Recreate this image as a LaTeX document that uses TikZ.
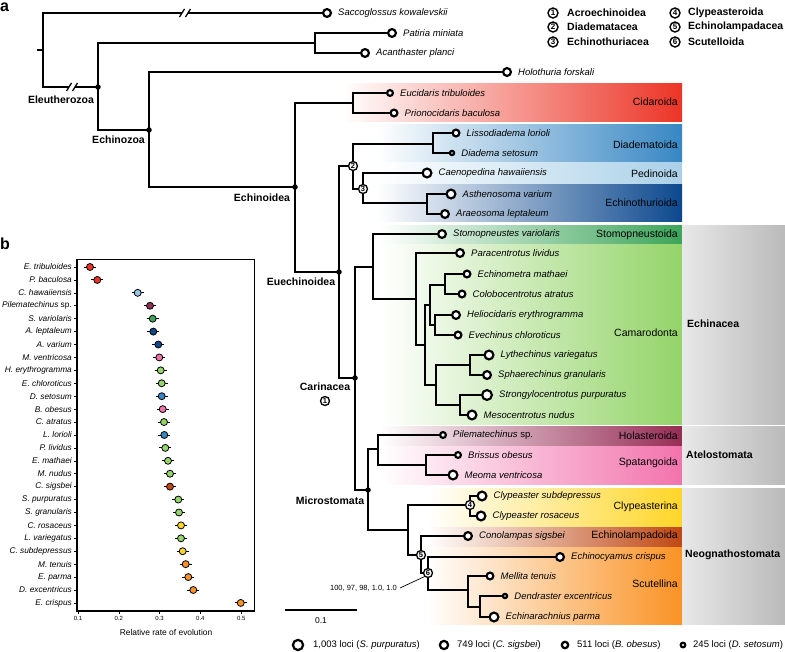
\documentclass[tikz,border=0pt]{standalone}
\usepackage{fontspec}
\setmainfont{Liberation Sans}
\usetikzlibrary{calc}
\definecolor{cid}{RGB}{236,52,38}
\definecolor{dia}{RGB}{55,135,195}
\definecolor{ped}{RGB}{170,208,232}
\definecolor{pedb}{RGB}{150,200,230}
\definecolor{echt}{RGB}{12,72,142}
\definecolor{stom}{RGB}{60,165,90}
\definecolor{cam}{RGB}{148,212,105}
\definecolor{hol}{RGB}{150,45,85}
\definecolor{spa}{RGB}{242,115,172}
\definecolor{clyp}{RGB}{255,214,40}
\definecolor{echl}{RGB}{192,72,20}
\definecolor{scu}{RGB}{250,146,36}
\newcommand\myband[5]{\shade[left color=white, right color=#5] (#1,#3) rectangle (#2,#4);}
\newcommand\mytip[5]{\node[tip=#4] (#1) at (#2,#3) {};\node[tiplab] (#1-l) at ([xshift=6pt]#1.east) {#5};}
\tikzset{
  br/.style={line width=2pt, line join=miter},
  tip/.style={circle, draw, fill=white, line width=2.2pt, inner sep=0pt, minimum size=2*#1pt-2.2pt},
  tiplab/.style={anchor=west, inner sep=0pt, font=\fontsize{9.5}{11}\selectfont\itshape},
  dotn/.style={circle, fill=black, inner sep=0pt, minimum size=5.5pt},
  numc/.style={circle, draw, fill=white, line width=1.3pt, minimum size=9pt, inner sep=0pt, font=\fontsize{7.5}{7.5}\selectfont\bfseries},
  grplab/.style={inner sep=0pt, font=\fontsize{10.5}{12}\selectfont\bfseries},
  cladelab/.style={anchor=east, inner sep=0pt, font=\fontsize{10.5}{12}\selectfont},
  leglab/.style={anchor=west, inner sep=0pt, font=\fontsize{10.5}{12}\selectfont\bfseries},
  blab/.style={anchor=east, inner sep=0pt, font=\fontsize{8.3}{9}\selectfont\itshape},
  bdot/.style={circle, draw, line width=0.8pt, minimum size=7pt, inner sep=0pt},
  brk/.style={line width=1.3pt}
}
\begin{document}
\begin{tikzpicture}[x=1pt,y=-1pt]
\useasboundingbox (0,0) rectangle (785,652);
% ---------------- bands
\myband{343}{682}{84}{122}{cid}
\myband{377}{682}{125}{163}{dia}
\myband{377}{682}{163}{185}{ped}
\myband{377}{682}{185}{222}{echt}
\myband{380}{682}{226}{245}{stom}
\myband{380}{682}{245}{425}{cam}
\myband{380}{682}{427}{446}{hol}
\myband{380}{682}{446}{484}{spa}
\myband{427}{682}{488}{527}{clyp}
\myband{427}{682}{527}{547}{echl}
\myband{427}{682}{547}{624}{scu}
\shade[left color=black!9, right color=black!27] (682,226) rectangle (785,425);
\shade[left color=black!9, right color=black!27] (682,427) rectangle (785,484);
\shade[left color=black!9, right color=black!27] (682,488) rectangle (785,624);
% clade labels
\node[cladelab] (lcid) at (678,102) {Cidaroida};
\node[cladelab] (ldia) at (678,145) {Diadematoida};
\node[cladelab] (lped) at (678,174) {Pedinoida};
\node[cladelab] (lect) at (678,203) {Echinothurioida};
\node[cladelab] (lsto) at (678,235) {Stomopneustoida};
\node[cladelab] (lcam) at (678,333) {Camarodonta};
\node[cladelab] (lhol) at (678,436) {Holasteroida};
\node[cladelab] (lspa) at (678,463) {Spatangoida};
\node[cladelab] (lcly) at (678,507) {Clypeasterina};
\node[cladelab] (lecl) at (678,536) {Echinolampadoida};
\node[cladelab] (lscu) at (678,584) {Scutellina};
\node[grplab, anchor=west] (gech) at (687,324) {Echinacea};
\node[grplab, anchor=west] (gate) at (686,455) {Atelostomata};
\node[grplab, anchor=west] (gneo) at (685,555) {Neognathostomata};
% ---------------- panel labels
\node[anchor=base west, inner sep=0pt, font=\fontsize{16}{16}\selectfont\bfseries] (pa) at (0,12) {a};
\node[anchor=base west, inner sep=0pt, font=\fontsize{16}{16}\selectfont\bfseries] (pb) at (0,250) {b};
% ---------------- tips
\mytip{sac}{327}{13}{5}{Saccoglossus kowalevskii}
\mytip{pat}{392}{33}{5}{Patiria miniata}
\mytip{aca}{365}{53}{5}{Acanthaster planci}
\mytip{hlt}{507}{72}{5}{Holothuria forskali}
\mytip{eut}{390}{93}{4}{Eucidaris tribuloides}
\mytip{pri}{394}{113}{4.5}{Prionocidaris baculosa}
\mytip{lis}{456}{133}{4.5}{Lissodiadema lorioli}
\mytip{dse}{452}{153}{3.2}{Diadema setosum}
\mytip{cae}{427}{173}{5.5}{Caenopedina hawaiiensis}
\mytip{ast}{451}{194}{5.5}{Asthenosoma varium}
\mytip{ara}{445}{214}{5}{Araeosoma leptaleum}
\mytip{sto}{442}{234}{5}{Stomopneustes variolaris}
\mytip{par}{460}{253}{5}{Paracentrotus lividus}
\mytip{ema}{467}{274}{4.5}{Echinometra mathaei}
\mytip{col}{462}{294}{4.5}{Colobocentrotus atratus}
\mytip{hel}{456}{315}{5}{Heliocidaris erythrogramma}
\mytip{eve}{458}{335}{4.5}{Evechinus chloroticus}
\mytip{lyt}{489}{355}{5.5}{Lythechinus variegatus}
\mytip{sph}{487}{375}{5}{Sphaerechinus granularis}
\mytip{str}{487}{395}{6}{Strongylocentrotus purpuratus}
\mytip{mes}{472}{415}{5.5}{Mesocentrotus nudus}
\mytip{pil}{443}{435}{4}{Pilematechinus \textup{sp.}}
\mytip{bri}{458}{455}{4}{Brissus obesus}
\mytip{meo}{453}{475}{5.5}{Meoma ventricosa}
\mytip{csu}{482}{496}{5.5}{Clypeaster subdepressus}
\mytip{cro}{481}{516}{5.5}{Clypeaster rosaceus}
\mytip{con}{468}{536}{5}{Conolampas sigsbei}
\mytip{ecr}{560}{557}{5}{Echinocyamus crispus}
\mytip{mel}{490}{576}{4.5}{Mellita tenuis}
\mytip{den}{505}{596}{3.2}{Dendraster excentricus}
\mytip{epa}{494}{617}{5.5}{Echinarachnius parma}
% ---------------- internal nodes
\coordinate (stub) at (37,50);
\coordinate (root) at (43,50);
\coordinate (brkA) at (182,13);
\coordinate (brkB) at (188,13);
\coordinate (brkC) at (69,87);
\coordinate (brkD) at (75,87);
\coordinate (E1) at (98,87);
\coordinate (PA) at (315,43);
\coordinate (EZ) at (149,130);
\coordinate (EO) at (295,187);
\coordinate (CID) at (353,103);
\coordinate (EU) at (339,272);
\node[numc] (n2) at (353,166) {2};
\coordinate (DIA) at (433,144);
\node[numc] (n3) at (363,189) {3};
\coordinate (ECT) at (427,203);
\coordinate (CAR) at (355,378);
\coordinate (EC) at (373,267);
\coordinate (CAM) at (416,299);
\coordinate (A1) at (425,345);
\coordinate (A2) at (430,305);
\coordinate (A3) at (445,285);
\coordinate (A4) at (435,325);
\coordinate (A5) at (436,385);
\coordinate (A6) at (470,365);
\coordinate (A7) at (460,405);
\coordinate (MI) at (368,490);
\coordinate (AT) at (378,449);
\coordinate (SP) at (426,465);
\coordinate (NEO) at (408,530);
\node[numc] (n4) at (470,505) {4};
\node[numc] (n5) at (421,555) {5};
\node[numc] (n6) at (428,573) {6};
\coordinate (SC) at (468,590);
\coordinate (SC2) at (480,607);
% ---------------- branches
\draw[br] (stub) -- (root);
\draw[br] (root) |- (brkA);
\draw[br] (brkB) -- (sac);
\draw[br] (root) |- (brkC);
\draw[br] (brkD) -- (E1);
\foreach \c in {brkA,brkB,brkC,brkD}
  \draw[brk] ([shift={(-2.5,4)}]\c) -- ([shift={(2.5,-4)}]\c);
\draw[br] (E1) |- (PA);  \draw[br] (E1) |- (EZ);
\draw[br] (PA) |- (pat); \draw[br] (PA) |- (aca);
\draw[br] (EZ) |- (hlt); \draw[br] (EZ) |- (EO);
\draw[br] (EO) |- (CID); \draw[br] (EO) |- (EU);
\draw[br] (CID) |- (eut); \draw[br] (CID) |- (pri);
\draw[br] (EU) |- (n2); \draw[br] (EU) |- (CAR);
\draw[br] (n2) |- (DIA); \draw[br] (n2) |- (n3);
\draw[br] (DIA) |- (lis); \draw[br] (DIA) |- (dse);
\draw[br] (n3) |- (cae); \draw[br] (n3) |- (ECT);
\draw[br] (ECT) |- (ast); \draw[br] (ECT) |- (ara);
\draw[br] (CAR) |- (EC); \draw[br] (CAR) |- (MI);
\draw[br] (EC) |- (sto); \draw[br] (EC) |- (CAM);
\draw[br] (CAM) |- (par); \draw[br] (CAM) |- (A1);
\draw[br] (A1) |- (A2); \draw[br] (A1) |- (A5);
\draw[br] (A2) |- (A3); \draw[br] (A2) |- (A4);
\draw[br] (A3) |- (ema); \draw[br] (A3) |- (col);
\draw[br] (A4) |- (hel); \draw[br] (A4) |- (eve);
\draw[br] (A5) |- (A6); \draw[br] (A5) |- (A7);
\draw[br] (A6) |- (lyt); \draw[br] (A6) |- (sph);
\draw[br] (A7) |- (str); \draw[br] (A7) |- (mes);
\draw[br] (MI) |- (AT); \draw[br] (MI) |- (NEO);
\draw[br] (AT) |- (pil); \draw[br] (AT) |- (SP);
\draw[br] (SP) |- (bri); \draw[br] (SP) |- (meo);
\draw[br] (NEO) |- (n4); \draw[br] (NEO) |- (n5);
\draw[br] (n4) |- (csu); \draw[br] (n4) |- (cro);
\draw[br] (n5) |- (con); \draw[br] (n5) |- (n6);
\draw[br] (n6) |- (ecr); \draw[br] (n6) |- (SC);
\draw[br] (SC) |- (mel); \draw[br] (SC) |- (SC2);
\draw[br] (SC2) |- (den); \draw[br] (SC2) |- (epa);
% dots
\foreach \c in {E1,EZ,EO,EU,CAR,MI}
  \node[dotn] (\c-d) at (\c) {};
% group labels
\node[grplab] (gel) at (61,100) {Eleutherozoa};
\node[grplab] (gez) at (118.5,140) {Echinozoa};
\node[grplab] (geo) at (262,198) {Echinoidea};
\node[grplab] (geu) at (301,282) {Euechinoidea};
\node[grplab] (gca) at (325,387) {Carinacea};
\node[numc] (n1) at (325,401) {1};
\node[grplab] (gmi) at (330,501) {Microstomata};
% bootstrap
\node[anchor=east, inner sep=0pt, font=\fontsize{7.5}{9}\selectfont] (bs) at (397,588) {100, 97, 98, 1.0, 1.0};
\draw[line width=0.7pt] ([xshift=3pt]bs.east) -- (n6.south west);
% scale bar
\coordinate (sbL) at (285,610);
\coordinate (sbR) at (357,610);
\draw[line width=1.8pt] (sbL) -- (sbR);
\node[inner sep=0pt, font=\fontsize{8.5}{10}\selectfont] (sbt) at (321,621) {0.1};
% ---------------- top-right legend
\tikzset{kc/.style={numc, minimum size=10pt, line width=1.4pt, font=\fontsize{8}{8}\selectfont\bfseries}}
\node[kc] (k1) at (553,13) {1};
\node[kc] (k2) at (553,27) {2};
\node[kc] (k3) at (553,42) {3};
\node[kc] (k4) at (675,13) {4};
\node[kc] (k5) at (675,27) {5};
\node[kc] (k6) at (675,42) {6};
\node[leglab] (t1) at (567,13) {Acroechinoidea};
\node[leglab] (t2) at (567,27) {Diadematacea};
\node[leglab] (t3) at (567,42) {Echinothuriacea};
\node[leglab] (t4) at (688,13) {Clypeasteroida};
\node[leglab] (t5) at (688,27) {Echinolampadacea};
\node[leglab] (t6) at (688,42) {Scutelloida};
% ---------------- bottom legend
\node[tip=6.2] (s1) at (298,645) {};
\node[tiplab, font=\fontsize{9.5}{11}\selectfont] (s1t) at (313,645) {1,003 loci (\textit{S. purpuratus})};
\node[tip=5.2] (s2) at (444,645) {};
\node[tiplab, font=\fontsize{9.5}{11}\selectfont] (s2t) at (457,645) {749 loci (\textit{C. sigsbei})};
\node[tip=4.3] (s3) at (565,645) {};
\node[tiplab, font=\fontsize{9.5}{11}\selectfont] (s3t) at (577,645) {511 loci (\textit{B. obesus})};
\node[tip=3.4] (s4) at (683,645) {};
\node[tiplab, font=\fontsize{9.5}{11}\selectfont] (s4t) at (693,645) {245 loci (\textit{D. setosum})};
% ---------------- panel b
\draw[line width=0.5pt] (77,259) rectangle (254,611);
\draw[line width=1.2pt] (77,259) -- (77,611) -- (254,611);
\foreach \v/\xx in {0.1/78,0.2/118.8,0.3/159.6,0.4/200.4,0.5/241.2}{
  \draw[line width=0.6pt] (\xx,611) -- (\xx,614);
  \node[inner sep=0pt, font=\fontsize{6}{7}\selectfont] (tk\v) at (\xx,618.5) {\v};
}
\node[inner sep=0pt, font=\fontsize{8.4}{10}\selectfont] (xt) at (166,632) {Relative rate of evolution};
\foreach \lab/\xv/\col [count=\i] in {
  E. tribuloides/90/cid, P. baculosa/97.3/cid, C. hawaiiensis/137.7/pedb,
  {Pilematechinus \textup{sp.}}/150/hol, S. variolaris/152.7/stom, A. leptaleum/153.3/echt,
  A. varium/158.3/echt, M. ventricosa/159.3/spa, H. erythrogramma/160.7/cam,
  E. chloroticus/161.7/cam, D. setosum/161.7/dia, B. obesus/162.7/spa,
  C. atratus/164/cam, L. lorioli/164.3/dia, P. lividus/165.3/cam,
  E. mathaei/168/cam, M. nudus/170/cam, C. sigsbei/170/echl,
  S. purpuratus/178.3/cam, S. granularis/179/cam, C. rosaceus/181/clyp,
  L. variegatus/181/cam, C. subdepressus/182.7/clyp, M. tenuis/185.7/scu,
  E. parma/188.3/scu, D. excentricus/193.3/scu, E. crispus/240.7/scu}{
  \pgfmathsetmacro\yy{267+(\i-1)*12.92}
  \draw[line width=0.6pt] (74,\yy) -- (77,\yy);
  \node[blab] (bl\i) at (72,\yy) {\lab};
  \draw[line width=0.9pt] (\xv-6,\yy) -- (\xv+6,\yy);
  \node[bdot, fill=\col] (bd\i) at (\xv,\yy) {};
}
\end{tikzpicture}
\end{document}
